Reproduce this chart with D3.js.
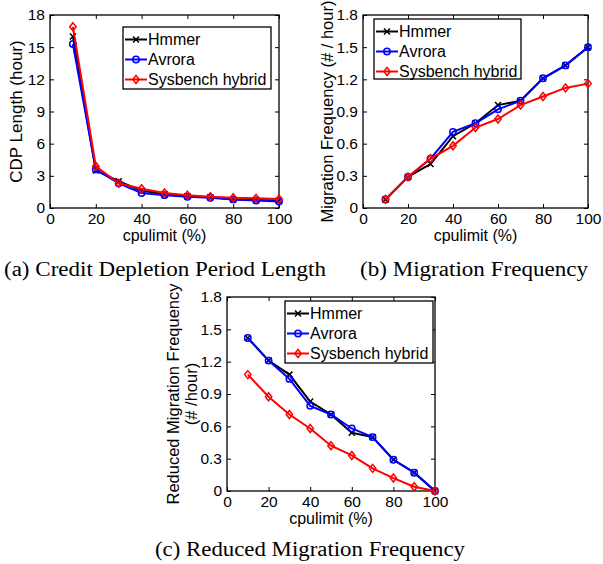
<!DOCTYPE html>
<html><head><meta charset="utf-8">
<script src="https://cdn.jsdelivr.net/npm/d3@7"></script>
<style>
body{margin:0;background:#fff;}
svg{display:block;}
text{font-family:"Liberation Sans",Arial,Helvetica,sans-serif;}
.cap{font-family:"Liberation Serif","Times New Roman",serif;}
</style></head>
<body>
<svg id="c" width="603" height="564"></svg>
<script>
const cpulimit = [10,20,30,40,50,60,70,80,90,100];
const seriesNames = ["Hmmer","Avrora","Sysbench hybrid"];
// (a) Credit Depletion Period Length
const cdpHmmer   = [16.0,3.5,2.5,1.6,1.3,1.1,1.0,0.8,0.75,0.7];
const cdpAvrora  = [15.3,3.6,2.3,1.4,1.2,1.05,0.95,0.8,0.7,0.6];
const cdpSysbench= [16.9,3.9,2.3,1.8,1.4,1.2,1.05,0.95,0.9,0.85];
// (b) Migration Frequency
const mfHmmer    = [0.08,0.29,0.41,0.67,0.79,0.96,1.0,1.21,1.33,1.5];
const mfAvrora   = [0.08,0.29,0.46,0.71,0.79,0.92,1.0,1.21,1.33,1.5];
const mfSysbench = [0.08,0.29,0.46,0.58,0.75,0.83,0.96,1.04,1.12,1.16];
// (c) Reduced Migration Frequency
const rmfHmmer   = [1.42,1.21,1.08,0.83,0.71,0.54,0.5,0.29,0.17,0];
const rmfAvrora  = [1.42,1.21,1.04,0.79,0.71,0.58,0.5,0.29,0.17,0];
const rmfSysbench= [1.08,0.875,0.71,0.58,0.42,0.33,0.21,0.12,0.04,0];
const xTicks = [0,20,40,60,80,100];
const yTicksA = [0,3,6,9,12,15,18];
const yTicksB = [0,0.3,0.6,0.9,1.2,1.5,1.8];

const colors = ["#000000","#0000ff","#ff0000"];
const markers = ["x","o","d"];
const svg = d3.select("#c");

function marker(g, type, x, y, color){
  if(type==="x"){
    g.append("path").attr("d",`M${x-3},${y-3}L${x+3},${y+3}M${x-3},${y+3}L${x+3},${y-3}`)
      .attr("stroke",color).attr("stroke-width",1.5).attr("fill","none");
  } else if(type==="o"){
    g.append("circle").attr("cx",x).attr("cy",y).attr("r",3.2)
      .attr("stroke",color).attr("stroke-width",1.5).attr("fill","none");
  } else {
    g.append("path").attr("d",`M${x},${y-4}L${x+3.2},${y}L${x},${y+4}L${x-3.2},${y}Z`)
      .attr("stroke",color).attr("stroke-width",1.5).attr("fill","none");
  }
}

function panel(o){
  const x = d3.scaleLinear().domain([0,100]).range([o.l,o.r]);
  const y = d3.scaleLinear().domain([0,o.ymax]).range([o.b,o.t]);
  const g = svg.append("g");
  const gx = g.append("g").attr("transform",`translate(0,${o.b})`)
    .call(d3.axisBottom(x).tickValues(xTicks).tickSize(-4).tickPadding(5).tickFormat(d3.format("d")));
  const gxt = g.append("g").attr("transform",`translate(0,${o.t})`)
    .call(d3.axisTop(x).tickValues(xTicks).tickSize(-4).tickFormat(""));
  const gy = g.append("g").attr("transform",`translate(${o.l},0)`)
    .call(d3.axisLeft(y).tickValues(o.yTicks).tickSize(-4).tickPadding(5).tickFormat(o.fmt));
  const gyr = g.append("g").attr("transform",`translate(${o.r},0)`)
    .call(d3.axisRight(y).tickValues(o.yTicks).tickSize(-4).tickFormat(""));
  [gx,gxt,gy,gyr].forEach(a=>{
    a.select(".domain").remove();
    a.selectAll("line").attr("stroke","#000").attr("stroke-width",1);
    a.selectAll("text").attr("font-size",15.5).attr("fill","#000")
      .attr("font-family","Liberation Sans, Arial, sans-serif");
  });
  g.append("rect").attr("x",o.l).attr("y",o.t).attr("width",o.r-o.l).attr("height",o.b-o.t)
    .attr("fill","none").attr("stroke","#000").attr("stroke-width",1.3);
  const line = d3.line().x((d,i)=>x(cpulimit[i])).y(d=>y(d));
  o.series.forEach((s,k)=>{
    g.append("path").datum(s).attr("d",line).attr("fill","none")
      .attr("stroke",colors[k]).attr("stroke-width",2);
    s.forEach((v,i)=>marker(g,markers[k],x(cpulimit[i]),y(v),colors[k]));
  });
  const L = o.leg;
  g.append("rect").attr("x",L.x).attr("y",L.y).attr("width",L.w).attr("height",L.h)
    .attr("fill","#fff").attr("stroke","#000").attr("stroke-width",1.3);
  seriesNames.forEach((n,k)=>{
    const cy = L.y + 12.5 + k*20;
    g.append("line").attr("x1",L.x+2).attr("x2",L.x+24).attr("y1",cy).attr("y2",cy)
      .attr("stroke",colors[k]).attr("stroke-width",2);
    marker(g,markers[k],L.x+13,cy,colors[k]);
    g.append("text").attr("x",L.x+25).attr("y",cy+5.5).attr("font-size",16).text(n);
  });
  g.append("text").attr("x",(o.l+o.r)/2).attr("y",o.b+32.5).attr("text-anchor","middle")
    .attr("font-size",16).text("cpulimit (%)");
  o.ylab.forEach((t,i)=>{
    g.append("text").attr("transform",`translate(${o.ylx[i]},${(o.t+o.b)/2}) rotate(-90)`)
      .attr("text-anchor","middle").attr("font-size",o.yfs).text(t);
  });
  g.append("text").attr("class","cap").attr("x",o.capx).attr("y",o.capy)
    .attr("text-anchor","middle").attr("font-size",20)
    .attr("textLength",o.capw).attr("lengthAdjust","spacingAndGlyphs").text(o.cap);
}

const fmtB = d=> d===0?"0":d3.format(".1f")(d);
panel({l:50,r:279,t:15,b:208,ymax:18,yTicks:yTicksA,fmt:d3.format("d"),
  series:[cdpHmmer,cdpAvrora,cdpSysbench],
  leg:{x:123,y:27,w:148,h:62},
  ylab:["CDP Length (hour)"],ylx:[22],yfs:17,
  cap:"(a) Credit Depletion Period Length",capx:165,capy:276,capw:322});
panel({l:363,r:588,t:15,b:208,ymax:1.8,yTicks:yTicksB,fmt:fmtB,
  series:[mfHmmer,mfAvrora,mfSysbench],
  leg:{x:374,y:19,w:147,h:60},
  ylab:["Migration Frequency (# / hour)"],ylx:[333],yfs:16.5,
  cap:"(b) Migration Frequency",capx:474,capy:276,capw:228});
panel({l:227,r:435,t:297,b:491,ymax:1.8,yTicks:yTicksB,fmt:fmtB,
  series:[rmfHmmer,rmfAvrora,rmfSysbench],
  leg:{x:285,y:301,w:148,h:62},
  ylab:["Reduced Migration Frequency","(# /hour)"],ylx:[179,197],yfs:16.5,
  cap:"(c) Reduced Migration Frequency",capx:310,capy:556,capw:310});
</script>
</body></html>
